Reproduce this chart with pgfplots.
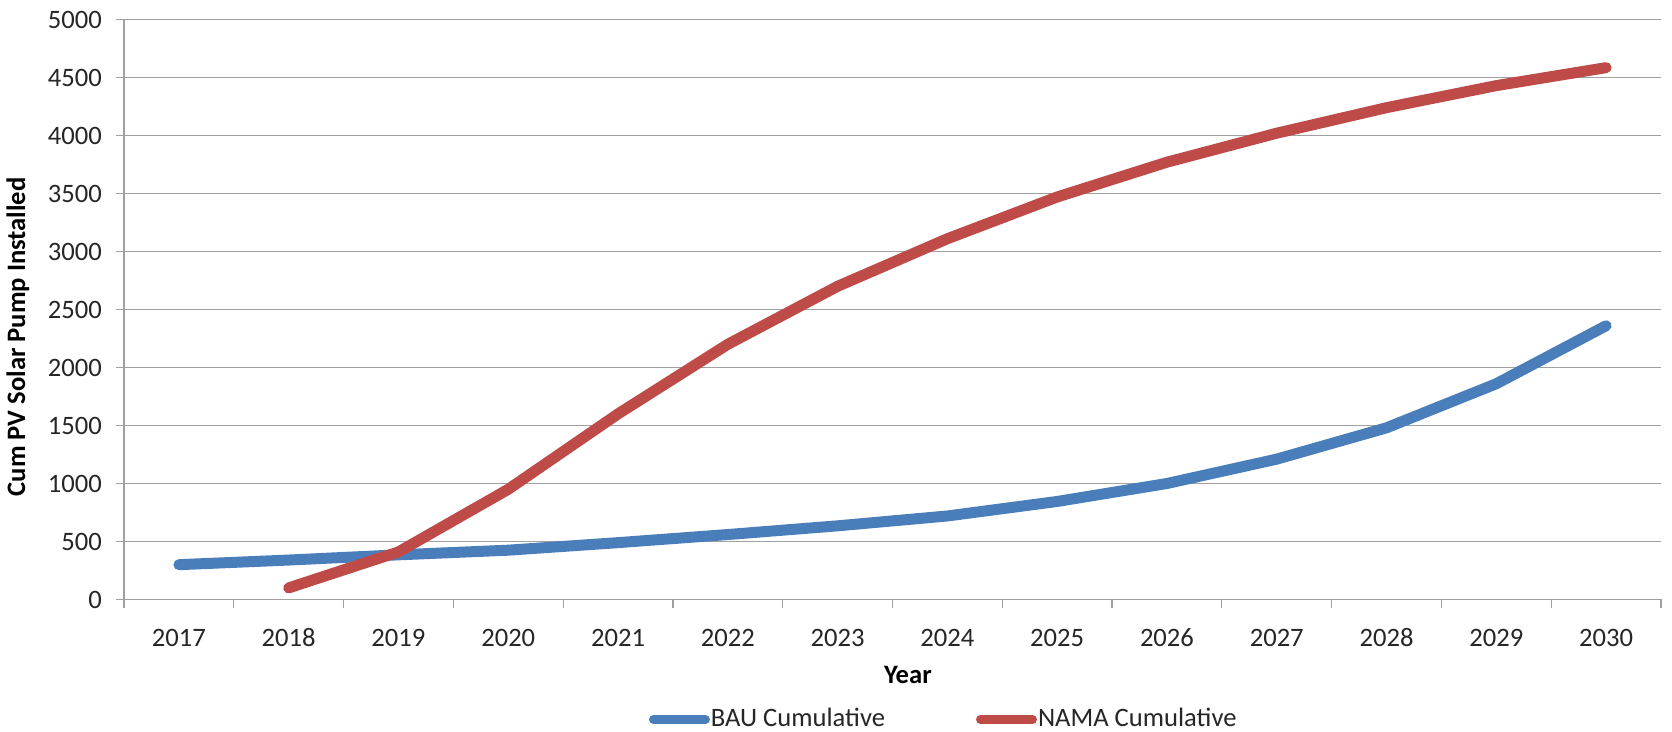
\documentclass[border=0pt]{standalone}
\usepackage{pgfplots}
\pgfplotsset{compat=1.18}
\usepackage{fontspec}
\setmainfont{Carlito}
\definecolor{bau}{HTML}{4A7EBB}
\definecolor{nama}{HTML}{BE4B48}
\definecolor{gridc}{HTML}{A0A0A0}
\newcommand{\cfont}{\fontsize{13.3}{15}\selectfont}
\begin{document}
\cfont
\begin{tikzpicture}
\useasboundingbox (-62pt,-66pt) rectangle (774pt,299.75pt);
\begin{axis}[
  at={(0,0)}, anchor=south west,
  scale only axis,
  width=768.5pt, height=290pt,
  xmin=-0.5, xmax=13.5,
  ymin=0, ymax=5000,
  ytick={0,500,...,5000},
  xtick={0,...,13},
  xticklabels={2017,2018,2019,2020,2021,2022,2023,2024,2025,2026,2027,2028,2029,2030},
  minor xtick={-0.5,0.5,...,13.5},
  major x tick style={draw=none},
  minor tick length=4.5pt,
  major tick length=4pt,
  tick align=outside,
  tick style={gridc, line width=0.6pt},
  axis x line*=bottom,
  axis y line*=left,
  axis line style={gridc, line width=0.6pt, -},
  ymajorgrids,
  major grid style={gridc, line width=0.6pt},
  /pgf/number format/assume math mode=true,
  scaled y ticks=false,
  yticklabel style={/pgf/number format/1000 sep={}, text=black!85, xshift=-2.5pt},
  xticklabel style={text=black!85, yshift=-6pt},
  ticklabel style={font=\cfont},
  xlabel={\textbf{Year}},
  xlabel style={at={(axis description cs:0.51,0)}, anchor=center, yshift=-37.5pt, font=\cfont},
  ylabel={\textbf{Cum PV Solar Pump Installed}},
  ylabel style={at={(axis description cs:-0.069,0.453)}, anchor=center, font=\cfont},
  legend columns=2,
  legend style={draw=none, at={(axis description cs:0.533,-0.207)}, anchor=center,
    font=\cfont, text=black!85, nodes={inner xsep=0.5pt},
    /tikz/every even column/.append style={column sep=45pt}},
  legend image code/.code={\draw[#1, line width=4.5pt, line cap=round] (0pt,0pt) -- (26pt,0pt);},
]
\addplot[bau, line width=5.5pt, line cap=round, line join=round] coordinates {
(0,300) (1,340) (2,385) (3,425) (4,490) (5,560) (6,635) (7,720) (8,845) (9,1000) (10,1210) (11,1480) (12,1860) (13,2360)};
\addlegendentry{BAU Cumulative}
\addplot[nama, line width=5.5pt, line cap=round, line join=round] coordinates {
(1,100) (2,410) (3,950) (4,1600) (5,2200) (6,2700) (7,3110) (8,3470) (9,3770) (10,4020) (11,4240) (12,4430) (13,4585)};
\addlegendentry{NAMA Cumulative}
\end{axis}
\end{tikzpicture}
\end{document}
